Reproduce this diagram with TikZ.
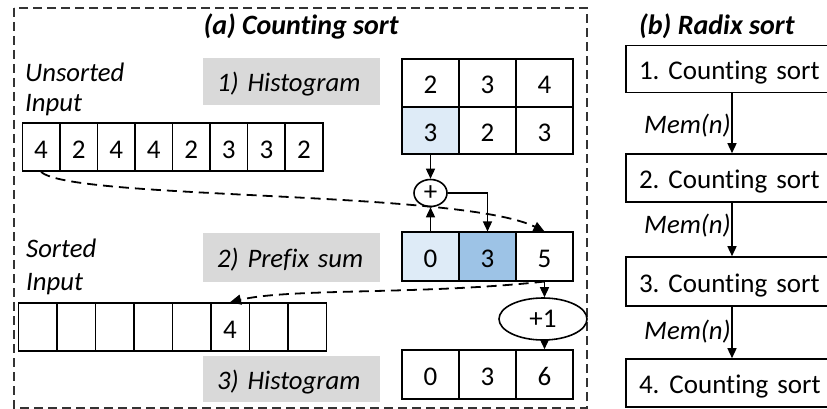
\documentclass[tikz,border=0pt]{standalone}
\usepackage{fontspec}
\setmainfont{Carlito}[Ligatures=NoCommon]
\usetikzlibrary{arrows.meta,shapes.geometric,calc}
\definecolor{lblue}{HTML}{DEEBF7}
\definecolor{mblue}{HTML}{9DC3E6}
\definecolor{gbox}{HTML}{D9D9D9}
\begin{document}
\frenchspacing
\begin{tikzpicture}[x=1pt,y=-1pt, font=\fontsize{27pt}{31pt}\selectfont,
  cell/.style={draw, line width=1.6pt, inner sep=0pt, minimum height=48pt, text height=22pt, text depth=0pt},
  graybox/.style={fill=gbox, inner ysep=0pt, inner xsep=7pt, text width=163pt, align=left, minimum height=47pt, text height=20pt, text depth=0pt, font=\fontsize{26.7pt}{31pt}\selectfont\itshape},
  rbox/.style={draw, line width=1.6pt, inner ysep=0pt, inner xsep=13pt, text width=200pt, align=left, minimum height=47pt, text height=21pt, text depth=0pt},
  arr/.style={line width=1.5pt, -{Triangle[length=10pt,width=9pt]}},
  darr/.style={line width=1.8pt, dash pattern=on 10pt off 6pt, -{Triangle[length=11pt,width=10pt]}},
  lbl/.style={font=\fontsize{26.7pt}{31pt}\selectfont\itshape, inner sep=0pt},
  ttl/.style={font=\fontsize{28pt}{31pt}\selectfont\bfseries\itshape, inner sep=0pt},
  oval/.style={draw, ellipse, line width=1.6pt, inner sep=0pt}]
\clip (0,0) rectangle (827,409);
% frame
\draw[line width=1.3pt, black!80, dash pattern=on 9pt off 5pt] (14,8) rectangle (587,408);
% titles
\node[ttl, anchor=base] (ta) at (301,35) {(a) Counting sort};
\node[ttl, anchor=base west] (tb) at (639,35) {(b) Radix sort};
% labels
\node[lbl, anchor=base west] (ul1) at (25,82) {Unsorted};
\node[lbl, anchor=base west] (ul2) at (25,112) {Input};
\node[lbl, anchor=base west] (sl1) at (26,257) {Sorted};
\node[lbl, anchor=base west] (sl2) at (26,290) {Input};
% gray step boxes
\node[graybox] (g1) at (291.5,81.5) {\hspace*{7pt}1) Histogram};
\node[graybox, minimum height=49pt] (g2) at (291.5,257.5) {\hspace*{7pt}2) Prefix sum};
\node[graybox, minimum height=46pt] (g3) at (291.5,379) {\hspace*{7pt}3) Histogram};
% unsorted input
\foreach \v [count=\i from 0] in {4,2,4,4,2,3,3,2}
  \node[cell, minimum width=37.55pt] (in\i) at ({22.3+37.55*(\i+0.5)},147) {\v};
% sorted output
\foreach \v [count=\i from 0] in {{},{},{},{},{},4,{},{}}
  \node[cell, minimum width=38.5pt] (so\i) at ({18.3+38.5*(\i+0.5)},327) {\v};
% histogram table
\foreach \v [count=\i from 0] in {2,3,4}
  \node[cell, minimum width=57pt, minimum height=47.5pt] (h\i) at ({430.5+57*\i},83) {\v};
\node[cell, minimum width=57pt, minimum height=47.5pt, fill=lblue] (c0) at (430.5,130.5) {3};
\node[cell, minimum width=57pt, minimum height=47.5pt] (c1) at (487.5,130.5) {2};
\node[cell, minimum width=57pt, minimum height=47.5pt] (c2) at (544.5,130.5) {3};
% prefix sum
\node[cell, minimum width=57pt, minimum height=48.5pt, fill=lblue] (p0) at (430.5,256.5) {0};
\node[cell, minimum width=57pt, minimum height=48.5pt, fill=mblue] (p1) at (487.5,256.5) {3};
\node[cell, minimum width=57pt, minimum height=48.5pt] (p2) at (544.5,256.5) {5};
% final
\node[cell, minimum width=57pt, minimum height=49pt] (f0) at (430.5,374.5) {0};
\node[cell, minimum width=57pt, minimum height=49pt] (f1) at (487.5,374.5) {3};
\node[cell, minimum width=57pt, minimum height=49pt] (f2) at (544.5,374.5) {6};
% operators
\node[oval, minimum width=33pt, minimum height=27pt] (plus) at (430.5,193) {+};
\node[oval, minimum width=88pt, minimum height=42pt] (po) at (543,319) {+1};
% connectors
\draw[arr] (c0.south) -- (plus.north);
\draw[arr] (p0.north) -- (plus.south);
\draw[arr] (plus.east) -| (p1.north);
\draw[darr] (in0.south) .. controls (70,200) and (460,190) .. (p2.north);
\draw[darr] (p2.south) .. controls (420,295) and (290,288) .. (so5.north);
\draw[arr] (p2.south) -- (p2.south |- po.north);
\draw[arr] (po.south -| f2.north) -- (f2.north);
% radix sort
\node[rbox] (r1) at (739,69) {1. Counting sort};
\node[rbox, minimum height=48pt] (r2) at (739,178) {2. Counting sort};
\node[rbox, minimum height=49pt] (r3) at (739,281.5) {3. Counting sort};
\node[rbox, minimum height=48pt] (r4) at (739,383) {4.\hspace{10pt}Counting sort};
\coordinate (ax) at (732,0);
\draw[arr] (r1.south -| ax) -- (r2.north -| ax);
\draw[arr] (r2.south -| ax) -- (r3.north -| ax);
\draw[arr] (r3.south -| ax) -- (r4.north -| ax);
\node[lbl, anchor=base east] (m1) at (731,134) {Mem(n)};
\node[lbl, anchor=base east] (m2) at (731,233) {Mem(n)};
\node[lbl, anchor=base east] (m3) at (731,339) {Mem(n)};
\end{tikzpicture}
\end{document}
